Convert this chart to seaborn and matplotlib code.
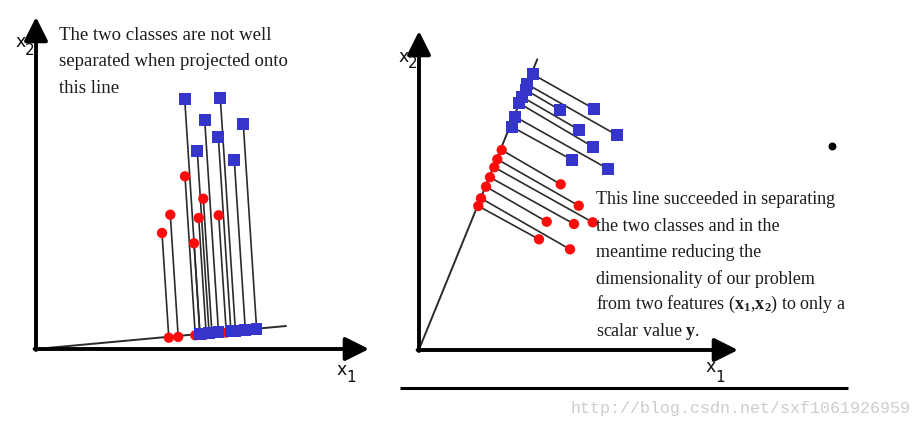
import matplotlib
matplotlib.use("Agg")
import matplotlib.pyplot as plt
import seaborn as sns
import pandas as pd

sns.set_theme(style="white")
plt.rcParams['font.family'] = ['Liberation Serif', 'DejaVu Serif']
plt.rcParams['mathtext.fontset'] = 'custom'
plt.rcParams['mathtext.rm'] = 'Liberation Serif'
plt.rcParams['mathtext.bf'] = 'Liberation Serif:bold'
plt.rcParams['mathtext.it'] = 'Liberation Serif:italic'

# ---------------- data (pixel space of the diagram) ----------------
# Left panel: poor projection line
left_blue_x = [184.7, 220.3, 204.7, 243.3, 218.3, 197.3, 234.3]
left_blue_y = [99.0, 97.7, 120.0, 124.3, 136.7, 151.3, 160.3]
left_blue_px = [200.0, 235.4, 218.5, 256.6, 230.9, 209.1, 245.3]
left_blue_py = [334.0, 330.7, 332.2, 328.9, 331.0, 333.1, 329.7]

left_red_x = [185.0, 203.3, 170.3, 198.7, 218.7, 162.0, 194.0]
left_red_y = [176.3, 198.7, 214.7, 218.0, 215.3, 233.0, 243.3]
left_red_px = [195.3, 212.0, 178.2, 206.2, 226.3, 168.8, 199.9]
left_red_py = [335.3, 333.8, 336.9, 334.4, 332.6, 337.7, 334.9]

left_line_x = [47, 286]
left_line_y = [348, 326]

# Right panel: good projection line
right_blue_x = [594.3, 560.0, 616.7, 579.3, 592.7, 572.3, 608.3]
right_blue_y = [109.0, 110.0, 135.0, 130.0, 146.7, 160.0, 169.0]
right_blue_px = [532.7, 526.0, 527.3, 521.7, 519.3, 511.7, 515.0]
right_blue_py = [74.3, 90.0, 84.3, 96.7, 103.3, 126.7, 116.7]

right_red_x = [560.7, 578.7, 592.7, 546.7, 574.0, 539.0, 570.0]
right_red_y = [184.3, 205.7, 222.3, 221.7, 224.0, 239.3, 249.3]
right_red_px = [501.7, 497.3, 494.3, 486.0, 490.0, 478.3, 481.0]
right_red_py = [150.0, 159.3, 167.3, 186.7, 177.3, 206.0, 198.3]

right_line_x = [420, 537.3]
right_line_y = [347, 59.3]

left_text = ["The two classes are not well",
             "separated when projected onto",
             "this line"]
right_text = ["This line succeeded in separating",
              "the two classes and in the",
              "meantime reducing the",
              "dimensionality of our problem",
              r"from two features ($\mathbf{x}_{\mathbf{1}}$,$\mathbf{x}_{\mathbf{2}}$) to only a",
              r"scalar value $\mathbf{y}$."]
watermark = "http://blog.csdn.net/sxf1061926959"

BLUE = "#3535cc"
RED = "#ff0a0a"
SEG = "#2b2b2b"

fig = plt.figure(figsize=(9.22, 4.30), dpi=100)
ax = fig.add_axes([0, 0, 1, 1])
ax.set_xlim(0, 922)
ax.set_ylim(430, 0)
ax.axis("off")


def arrow(x0, y0, x1, y1):
    ax.annotate("", xy=(x1, y1), xytext=(x0, y0),
                arrowprops=dict(arrowstyle="-|>,head_length=0.9,head_width=0.45",
                                lw=2.8, color="black", mutation_scale=16,
                                shrinkA=0, shrinkB=0))


def axis_label(x, y, sub_dx, sub_y, sub):
    ax.text(x, y, "x", fontsize=12.5, family="DejaVu Sans", ha="left", va="baseline", color="#111111")
    ax.text(x + sub_dx, sub_y, sub, fontsize=11, family="DejaVu Sans", ha="left", va="baseline",
            color="#111111")


# axes of both panels
arrow(36, 350, 36, 17)
arrow(34.6, 349, 369, 349)
arrow(419, 351, 419, 31)
arrow(417.6, 350, 738, 350)
axis_label(15, 47, 9.5, 55, "2")
axis_label(336, 375, 10, 382, "1")
axis_label(398.5, 62, 9.5, 68, "2")
axis_label(705, 372, 10, 382, "1")

ax.plot([400, 848], [388, 388], color="black", lw=2.2, solid_capstyle="butt")

# projection lines
ax.plot(left_line_x, left_line_y, color=SEG, lw=1.4)
ax.plot(right_line_x, right_line_y, color=SEG, lw=1.4)

# connecting segments
for xs, ys, pxs, pys in [(left_blue_x, left_blue_y, left_blue_px, left_blue_py),
                         (left_red_x, left_red_y, left_red_px, left_red_py),
                         (right_blue_x, right_blue_y, right_blue_px, right_blue_py),
                         (right_red_x, right_red_y, right_red_px, right_red_py)]:
    for a, b, c, d in zip(xs, ys, pxs, pys):
        ax.plot([a, c], [b, d], color=SEG, lw=1.2, zorder=2)

blue_df = pd.DataFrame({"x": left_blue_x + left_blue_px + right_blue_x + right_blue_px,
                        "y": left_blue_y + left_blue_py + right_blue_y + right_blue_py})
red_df = pd.DataFrame({"x": left_red_x + left_red_px + right_red_x + right_red_px,
                       "y": left_red_y + left_red_py + right_red_y + right_red_py})

sns.scatterplot(data=red_df, x="x", y="y", marker="o", s=55, color=RED,
                edgecolor="none", linewidth=0, ax=ax, zorder=3)
sns.scatterplot(data=blue_df, x="x", y="y", marker="s", s=70, color=BLUE,
                edgecolor="none", linewidth=0, ax=ax, zorder=4)
ax.set_xlim(0, 922)
ax.set_ylim(430, 0)
ax.set_xlabel("")
ax.set_ylabel("")

# black dot
ax.scatter([831.7], [145.7], s=22, color="black", zorder=5)

# texts
for i, line in enumerate(left_text):
    ax.text(59, 35 + i * 26.7, line, fontsize=13.5, ha="left", va="center", color="#1c1c1c")
for i, line in enumerate(right_text):
    ax.text(596, 200 + i * 26.2, line, fontsize=13.0, ha="left", va="center", color="#1c1c1c")

ax.text(910, 409, watermark, fontsize=12.0, family="Liberation Mono", ha="right",
        va="center", color="#cdcdcd")

fig.savefig("out.png", dpi=100)
